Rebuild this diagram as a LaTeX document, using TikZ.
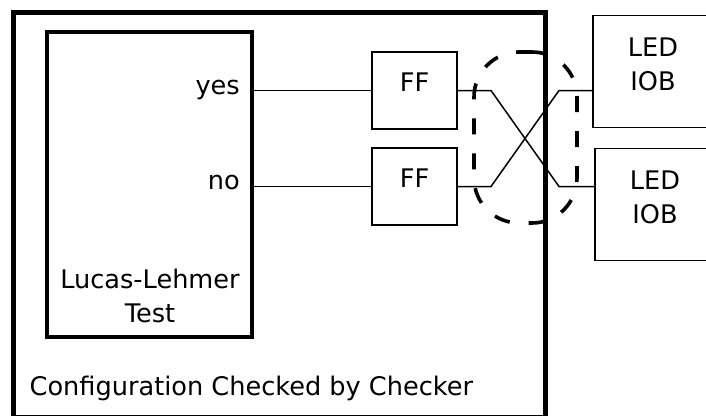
\documentclass[tikz,border=0pt]{standalone}
\usepackage{fontspec}
\setmainfont{DejaVu Sans}

\begin{document}
\begin{tikzpicture}[x=1pt, y=-1pt,
  lbl/.style={inner sep=0pt, font=\fontsize{25.6}{33.5}\selectfont},
  chkframe/.style={draw, line width=5pt, minimum width=531.5pt, minimum height=405pt, inner sep=0pt, outer sep=0pt},
  llbox/.style={draw, line width=3.2pt, minimum width=205pt, minimum height=305pt, inner sep=0pt, outer sep=0pt},
  ffbox/.style={draw, line width=1.4pt, minimum width=85pt, minimum height=77pt, inner sep=0pt, outer sep=0pt, text height=18pt, text depth=17pt, font=\fontsize{25.6}{33.5}\selectfont},
  iobbox/.style={draw, line width=1.4pt, minimum width=120pt, minimum height=112pt, inner sep=0pt, outer sep=0pt, align=center, text height=51.5pt, text depth=14.5pt, font=\fontsize{25.6}{33.5}\selectfont},
  grp/.style={draw, line width=3.6pt, dash pattern=on 16pt off 19pt, rounded corners=45pt, minimum width=103pt, minimum height=171pt, inner sep=0pt},
  wire/.style={line width=1.5pt}
]
\useasboundingbox (0,0) rectangle (706,415);

\node[chkframe] at (279.25,215)   (chk)  {};
\node[llbox]    at (149.5,184.5)  (ll)   {};
\node[ffbox]    at (414.5,90.5)   (ff1)  {FF};
\node[ffbox]    at (414.5,186.5)  (ff2)  {FF};
\node[iobbox]   at (653,71.5)     (iob1) {LED\\IOB};
\node[iobbox]   at (655,204.5)    (iob2) {LED\\IOB};
\node[grp]      at (525.5,137.5)  (cross) {};

\node[lbl, anchor=mid east]   at (240,91.5)  (yes)  {yes};
\node[lbl, anchor=mid east]   at (240,187)   (no)   {no};
\node[lbl, anchor=base, align=center] at (150,322) (lltxt) {Lucas-Lehmer\\Test};
\node[lbl, anchor=base west]  at (29.5,395)  (chktxt) {Configuration Checked by Checker};

\draw[wire] (ll.east |- ff1.west) -- (ff1.west);
\draw[wire] (ll.east |- ff2.west) -- (ff2.west);
\draw[wire] (ff1.east) -- ++(34,0) -- ++(68,96) -- (iob2.west |- ff2.east);
\draw[wire] (ff2.east) -- ++(34,0) -- ++(68,-96) -- (iob1.west |- ff1.east);
\end{tikzpicture}
\end{document}
